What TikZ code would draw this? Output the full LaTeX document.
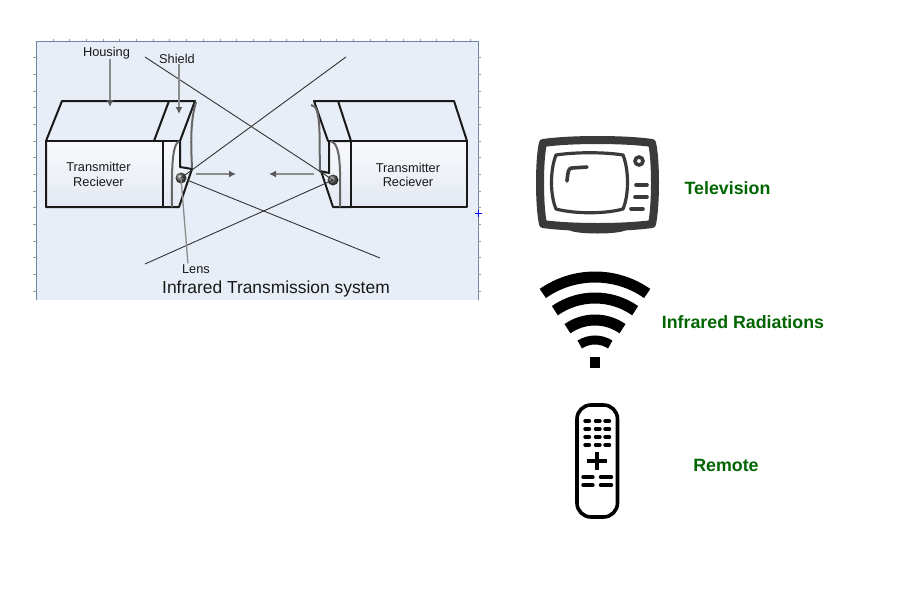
\documentclass[tikz,border=0pt]{standalone}
\usepackage{fontspec}
\setmainfont{Liberation Sans}
\usetikzlibrary{arrows.meta,calc}
\definecolor{panelblue}{HTML}{E8EEF7}
\definecolor{panelline}{HTML}{6F86A8}
\definecolor{labelgreen}{HTML}{006400}
\definecolor{tvgray}{HTML}{3A3A3A}
\definecolor{frontlow}{HTML}{E3E9F3}
\tikzset{
	label small/.style={inner sep=0pt, text=black!90, font=\fontsize{12.8}{14.5}\selectfont, align=center},
	label green/.style={inner sep=0pt, text=labelgreen, font=\fontsize{17.8}{20}\selectfont\bfseries},
	box line/.style={line width=2pt, line join=round, black!90},
	shield curve/.style={line width=2pt, black!60},
	ray/.style={line width=0.9pt, black!80},
	pointer/.style={line width=1.3pt, black!45, -{Latex[length=7pt,width=7pt,black!65]}},
	front face/.style={top color=white!70!panelblue, bottom color=frontlow, draw=none},
	tv line/.style={tvgray, line cap=round, line width=3.6pt},
	remote key/.style={black, line cap=round, line width=3.4pt},
	wifi bar/.style={black, line width=11pt}
}

\begin{document}
\begin{tikzpicture}[x=1pt, y=-1pt]
	\useasboundingbox (0, 0) rectangle (900, 600);
	%%%%% PANEL %%%%%
	\fill[panelblue] (36, 41) rectangle (478, 300);
	\draw[line width=0.8pt, panelline] (36, 300) -- (36, 41) -- (478, 41) -- (478, 300);
	\foreach \i in {0,...,14} {
		\draw[line width=0.4pt, black!40] (33, 57.5+16.67*\i) -- (36, 57.5+16.67*\i);
		\draw[line width=0.4pt, black!40] (478, 57.5+16.67*\i) -- (481, 57.5+16.67*\i);
	}
	\foreach \i in {0,...,25} {
		\draw[line width=0.4pt, black!40] (53+16.67*\i, 39) -- (53+16.67*\i, 41);
	}
	\draw[line width=0.8pt, blue] (475, 213.5) -- (482, 213.5) (478.5, 210) -- (478.5, 217);

	%%%%% LEFT BOX %%%%%
	\fill[front face] (46, 141) rectangle (163, 207);
	\fill[front face] (163, 141) -- (180, 141) -- (180, 167) -- (192, 169) -- (179, 207) -- (163, 207) -- cycle;
	\draw[box line] (46, 141) -- (62, 101) -- (195, 101) -- (180, 141) -- (180, 167) -- (192, 169) -- (179, 207) -- (46, 207) -- cycle;
	\draw[box line] (46, 141) -- (180, 141);
	\draw[box line] (169, 101) -- (154, 141);
	\draw[box line] (163, 141) -- (163, 207);
	\draw[shield curve] (196, 102) .. controls (190, 122) and (191, 145) .. (192, 168);
	\draw[shield curve] (179, 141) .. controls (171, 146) and (172, 175) .. (172, 207);
	\shade[ball color=black!65] (181, 178) circle (5.5);
	\coordinate (lensA) at (181, 178);
	\coordinate (lensAlow) at (187, 180);

	%%%%% RIGHT BOX %%%%%
	\fill[front face] (351, 141) rectangle (467, 207);
	\fill[front face] (329, 141) -- (351, 141) -- (351, 207) -- (333, 207) -- (322, 175) -- (329, 172) -- cycle;
	\draw[box line] (351, 141) -- (467, 141) -- (467, 207) -- (351, 207) -- cycle;
	\draw[box line] (467, 141) -- (454, 101) -- (314, 101) -- (328, 141) -- (351, 141);
	\draw[box line] (338, 101) -- (351, 141);
	\draw[box line] (329, 141) -- (329, 173) -- (320, 171);
	\draw[box line] (321, 171) -- (333, 207) -- (351, 207);
	\draw[shield curve] (311, 105) .. controls (322, 105) and (319, 140) .. (320, 172);
	\draw[shield curve] (331, 141) .. controls (342, 145) and (340, 175) .. (340, 207);
	\shade[ball color=black!65] (333, 180) circle (5.5);
	\coordinate (lensB) at (333, 180);

	%%%%% RAYS %%%%%
	\coordinate (rayA) at (145, 57);
	\coordinate (rayB) at (346, 57);
	\coordinate (rayC) at (145, 264);
	\coordinate (rayD) at (380, 258);
	\draw[ray] (rayA) -- (lensB);
	\draw[ray] (rayB) -- (lensA);
	\draw[ray] (rayC) -- (lensB);
	\draw[ray] (rayD) -- (lensAlow);

	%%%%% TEXTS OF THE PANEL %%%%%
	\node[label small] (housing) at (106.5, 53) {Housing};
	\node[label small] (shield) at (177, 59) {Shield};
	\node[label small] (lens) at (196, 269) {Lens};
	\node[label small] (textA) at (98.5, 174.5) {Transmitter\\Reciever};
	\node[label small] (textB) at (408, 175) {Transmitter\\Reciever};
	\node[inner sep=0pt, text=black!90, font=\fontsize{17.4}{19}\selectfont] (title) at (276, 289) {Infrared Transmission system};

	\coordinate (housingEnd) at (110, 107);
	\coordinate (shieldEnd) at (179, 114);
	\coordinate (beamAfrom) at (196, 174);
	\coordinate (beamAto) at (236, 174);
	\coordinate (beamBfrom) at (314, 174);
	\coordinate (beamBto) at (269, 174);
	\draw[pointer] (housing.south -| housingEnd) -- (housingEnd);
	\draw[pointer] (shield.south -| shieldEnd) -- (shieldEnd);
	\draw[pointer] (beamAfrom) -- (beamAto);
	\draw[pointer] (beamBfrom) -- (beamBto);
	\draw[line width=1.3pt, black!45] (lens.north west) ++(6, -1) -- (lensA);

	%%%%% TELEVISION %%%%%
	\fill[tvgray] (568, 229) -- (627, 229) .. controls (625, 235) and (570, 235) .. (568, 229) -- cycle;
	\draw[tvgray, line width=8pt, line join=round] (543, 143) .. controls (570, 139) and (625, 139) .. (652, 143)
		.. controls (656, 160) and (656, 205) .. (652, 224)
		.. controls (625, 228) and (570, 228) .. (543, 224)
		.. controls (539, 205) and (539, 160) .. (543, 143) -- cycle;
	\draw[tvgray, line width=3.2pt, line join=round] (556, 155) .. controls (575, 152) and (605, 152) .. (623, 155)
		.. controls (629, 170) and (629, 195) .. (623, 209)
		.. controls (605, 214) and (575, 214) .. (556, 209)
		.. controls (550, 195) and (550, 170) .. (556, 155) -- cycle;
	\draw[tv line] (587, 167) -- (572, 168) .. controls (569, 168) and (568, 170) .. (567, 181);
	\draw[tvgray, line width=3.6pt] (639, 161) circle (4);
	\draw[tv line] (636, 185) -- (647, 185);
	\draw[tv line] (635, 197) -- (647, 197);
	\draw[tv line] (631, 209) -- (643, 209);
	\node[label green] (television) at (727.5, 188.5) {Television};

	%%%%% WIFI %%%%%
	\coordinate (wifiC) at (595, 368);
	\foreach \r in {91, 70, 48} {
		\draw[wifi bar] ($(wifiC)+(125:\r pt)$) arc (125:55:\r pt);
	}
	\draw[wifi bar, line width=9pt] ($(wifiC)+(123:28pt)$) arc (123:57:28pt);
	\fill[black] (590, 357) rectangle (600, 368);
	\node[label green] (infrared) at (743, 322.5) {Infrared Radiations};

	%%%%% REMOTE %%%%%
	\draw[black, line width=3.6pt, rounded corners=14pt] (577, 405) rectangle (617.5, 517);
	\foreach \y in {421, 429, 437, 445} {
		\foreach \x in {585, 595.5, 605} {
			\draw[remote key] (\x, \y) -- (\x+4.5, \y);
		}
	}
	\draw[black, line width=3.8pt] (587, 461) -- (607, 461) (597, 452) -- (597, 470);
	\foreach \y in {477, 485} {
		\draw[remote key] (583, \y) -- (593, \y);
		\draw[remote key] (600.5, \y) -- (611.5, \y);
	}
	\node[label green] (remote) at (726, 465.5) {Remote};
\end{tikzpicture}
\end{document}
